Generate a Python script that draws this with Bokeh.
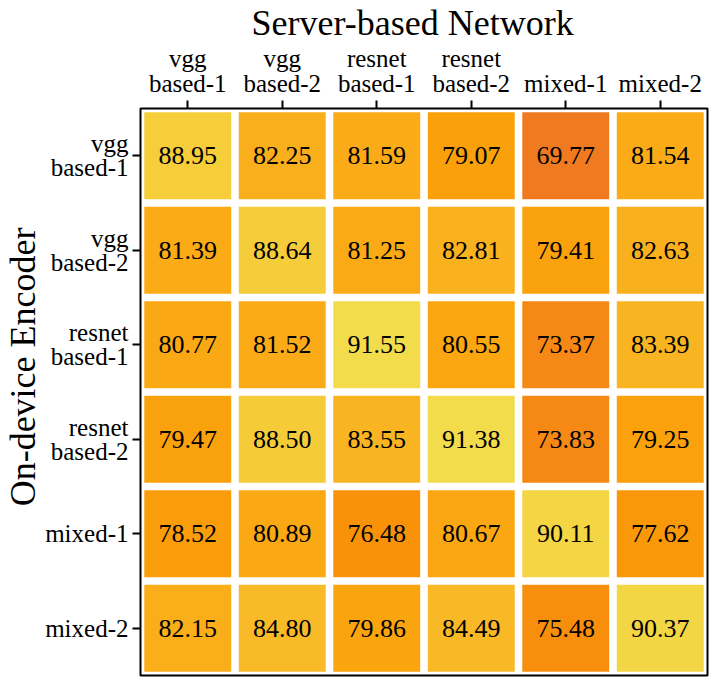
import numpy as np
from bokeh.plotting import figure
from bokeh.models import (ColumnDataSource, LinearColorMapper, FixedTicker,
                          Range1d, Title)
from bokeh.transform import transform
from bokeh.embed import file_html
from bokeh.resources import INLINE

# ---- data -------------------------------------------------------------
col_labels = ["vgg\nbased-1", "vgg\nbased-2", "resnet\nbased-1",
              "resnet\nbased-2", "mixed-1", "mixed-2"]
row_labels = ["vgg\nbased-1", "vgg\nbased-2", "resnet\nbased-1",
              "resnet\nbased-2", "mixed-1", "mixed-2"]
row_vgg1 = [88.95, 82.25, 81.59, 79.07, 69.77, 81.54]
row_vgg2 = [81.39, 88.64, 81.25, 82.81, 79.41, 82.63]
row_res1 = [80.77, 81.52, 91.55, 80.55, 73.37, 83.39]
row_res2 = [79.47, 88.50, 83.55, 91.38, 73.83, 79.25]
row_mix1 = [78.52, 80.89, 76.48, 80.67, 90.11, 77.62]
row_mix2 = [82.15, 84.80, 79.86, 84.49, 75.48, 90.37]
rows = [row_vgg1, row_vgg2, row_res1, row_res2, row_mix1, row_mix2]

x_title = "Server-based Network"
y_title = "On-device Encoder"

# ---- colour palette (orange -> yellow) ----------------------------------
anchor_t = [0.0, 0.165, 0.308, 0.427, 0.690, 0.881, 1.0]
anchor_rgb = [(240, 122, 32), (246, 136, 22), (249, 146, 8), (250, 160, 10),
              (249, 186, 40), (245, 206, 58), (242, 220, 76)]
tt = np.linspace(0, 1, 256)
chan = [np.interp(tt, anchor_t, [c[k] for c in anchor_rgb]) for k in range(3)]
palette = ["#%02x%02x%02x" % (int(round(r)), int(round(g)), int(round(b)))
           for r, g, b in zip(*chan)]

vals = np.array(rows)
mapper = LinearColorMapper(palette=palette, low=float(vals.min()),
                           high=float(vals.max()))

xs, ys, vs, txt = [], [], [], []
for i, r in enumerate(rows):
    for j, v in enumerate(r):
        xs.append(j + 0.5)
        ys.append(i + 0.5)
        vs.append(v)
        txt.append("%.2f" % v)
src = ColumnDataSource(dict(x=xs, y=ys, v=vs, t=txt))

# ---- figure -------------------------------------------------------------
FONT = "Liberation Serif"
p = figure(frame_width=567, frame_height=567,
           x_range=Range1d(0, 6), y_range=Range1d(6, 0),
           x_axis_location="above", toolbar_location=None,
           output_backend="svg", min_border_left=134, min_border_top=103,
           min_border_right=2, min_border_bottom=2)
p.title = Title(text=x_title, align="left", offset=111, standoff=0,
                text_font=FONT, text_font_size="36px",
                text_font_style="normal", text_color="black")
p.add_layout(Title(text=y_title, align="right", offset=119, standoff=0,
                   text_font=FONT, text_font_size="36px",
                   text_font_style="normal", text_color="black"), "left")

p.rect(x="x", y="y", width=0.92, height=0.92, source=src,
       fill_color=transform("v", mapper), line_color=None)
p.text(x="x", y="y", text="t", source=src, text_align="center",
       text_baseline="middle", text_font=FONT, text_font_size="26px",
       text_color="black")

p.xgrid.visible = False
p.ygrid.visible = False
p.outline_line_color = "black"
p.outline_line_width = 2
p.background_fill_color = "white"

centers = [k + 0.5 for k in range(6)]
for ax, labels in ((p.xaxis[0], col_labels), (p.yaxis[0], row_labels)):
    ax.ticker = FixedTicker(ticks=centers)
    ax.major_label_overrides = {c: l for c, l in zip(centers, labels)}
    ax.minor_tick_line_color = None
    ax.major_tick_in = 0
    ax.major_tick_out = 8
    ax.major_tick_line_width = 2
    ax.major_tick_line_color = "black"
    ax.axis_line_color = None
    ax.axis_label_standoff = 0
    ax.major_label_text_font = FONT
    ax.major_label_text_font_size = "25px"
    ax.major_label_text_color = "black"
    ax.major_label_text_line_height = 0.9
    ax.major_label_standoff = 4

open("out.html", "w").write(file_html(p, INLINE))
